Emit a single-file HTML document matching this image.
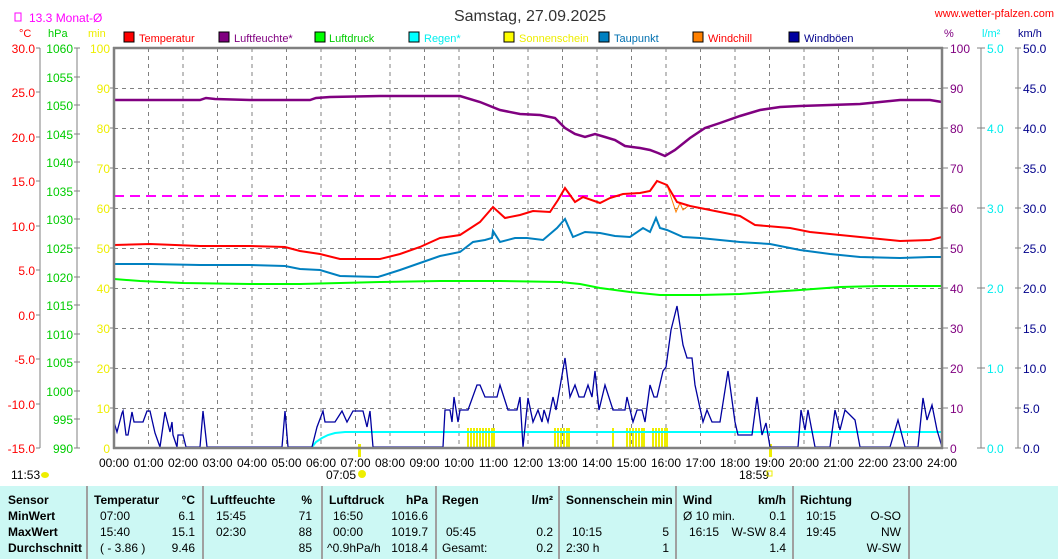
<!DOCTYPE html>
<html><head><meta charset="utf-8"><style>
html,body{margin:0;padding:0;background:#fff;}
svg{display:block;font-family:"Liberation Sans",sans-serif;}
</style></head><body>
<svg width="1058" height="559" viewBox="0 0 1058 559" xmlns="http://www.w3.org/2000/svg">
<rect width="1058" height="559" fill="#fff"/>
<text x="530" y="21" font-size="16" text-anchor="middle" fill="#333">Samstag, 27.09.2025</text>
<text x="1054" y="17" font-size="11" text-anchor="end" fill="#f00">www.wetter-pfalzen.com</text>
<rect x="15" y="13" width="6" height="8" fill="none" stroke="#f0f" stroke-width="1"/>
<text x="29" y="22" font-size="12" fill="#f0f">13.3 Monat-Ø</text>
<text x="19" y="37" font-size="11" fill="#f00">°C</text>
<text x="48" y="37" font-size="11" fill="#0c0">hPa</text>
<text x="88" y="37" font-size="11" fill="#ee0">min</text>
<text x="944" y="37" font-size="11" fill="#800080">%</text>
<text x="982" y="37" font-size="11" fill="#0ee">l/m²</text>
<text x="1018" y="37" font-size="11" fill="#00008b">km/h</text>
<g font-size="11">
<rect x="124" y="32" width="10" height="10" fill="#f00" stroke="#000"/><text x="139" y="42" fill="#f00">Temperatur</text>
<rect x="219" y="32" width="10" height="10" fill="#800080" stroke="#000"/><text x="234" y="42" fill="#800080">Luftfeuchte*</text>
<rect x="315" y="32" width="10" height="10" fill="#0f0" stroke="#000"/><text x="329" y="42" fill="#0c0">Luftdruck</text>
<rect x="409" y="32" width="10" height="10" fill="#0ff" stroke="#000"/><text x="424" y="42" fill="#0ee">Regen*</text>
<rect x="504" y="32" width="10" height="10" fill="#ff0" stroke="#000"/><text x="519" y="42" fill="#ee0">Sonnenschein</text>
<rect x="599" y="32" width="10" height="10" fill="#0080c0" stroke="#000"/><text x="614" y="42" fill="#0070b0">Taupunkt</text>
<rect x="693" y="32" width="10" height="10" fill="#ff8000" stroke="#000"/><text x="708" y="42" fill="#f00">Windchill</text>
<rect x="789" y="32" width="10" height="10" fill="#0000a0" stroke="#000"/><text x="804" y="42" fill="#00008b">Windböen</text>
</g>
<g stroke="#808080" stroke-dasharray="4,4" stroke-width="1">
<line x1="114" y1="88.5" x2="942" y2="88.5"/><line x1="114" y1="128.5" x2="942" y2="128.5"/><line x1="114" y1="168.5" x2="942" y2="168.5"/><line x1="114" y1="208.5" x2="942" y2="208.5"/><line x1="114" y1="248.5" x2="942" y2="248.5"/><line x1="114" y1="288.5" x2="942" y2="288.5"/><line x1="114" y1="328.5" x2="942" y2="328.5"/><line x1="114" y1="368.5" x2="942" y2="368.5"/><line x1="114" y1="408.5" x2="942" y2="408.5"/>
<line x1="148.5" y1="48" x2="148.5" y2="448"/><line x1="183" y1="48" x2="183" y2="448"/><line x1="217.5" y1="48" x2="217.5" y2="448"/><line x1="252" y1="48" x2="252" y2="448"/><line x1="286.5" y1="48" x2="286.5" y2="448"/><line x1="321" y1="48" x2="321" y2="448"/><line x1="355.5" y1="48" x2="355.5" y2="448"/><line x1="390" y1="48" x2="390" y2="448"/><line x1="424.5" y1="48" x2="424.5" y2="448"/><line x1="459" y1="48" x2="459" y2="448"/><line x1="493.5" y1="48" x2="493.5" y2="448"/><line x1="528" y1="48" x2="528" y2="448"/><line x1="562.5" y1="48" x2="562.5" y2="448"/><line x1="597" y1="48" x2="597" y2="448"/><line x1="631.5" y1="48" x2="631.5" y2="448"/><line x1="666" y1="48" x2="666" y2="448"/><line x1="700.5" y1="48" x2="700.5" y2="448"/><line x1="735" y1="48" x2="735" y2="448"/><line x1="769.5" y1="48" x2="769.5" y2="448"/><line x1="804" y1="48" x2="804" y2="448"/><line x1="838.5" y1="48" x2="838.5" y2="448"/><line x1="873" y1="48" x2="873" y2="448"/><line x1="907.5" y1="48" x2="907.5" y2="448"/>
</g>
<g fill="#ee0">
<rect x="467" y="428" width="2" height="20"/><rect x="470" y="428" width="2" height="20"/><rect x="473" y="428" width="2" height="20"/><rect x="476" y="428" width="2" height="20"/><rect x="479" y="428" width="2" height="20"/><rect x="482" y="428" width="2" height="20"/><rect x="485" y="428" width="2" height="20"/><rect x="488" y="428" width="2" height="20"/><rect x="491" y="428" width="2" height="20"/><rect x="493" y="428" width="2" height="20"/>
<rect x="554" y="428" width="2" height="20"/><rect x="557" y="428" width="2" height="20"/><rect x="560" y="428" width="2" height="20"/><rect x="563" y="428" width="2" height="20"/><rect x="566" y="428" width="2" height="20"/><rect x="568" y="428" width="2" height="20"/>
<rect x="612" y="428" width="2" height="20"/>
<rect x="626" y="428" width="2" height="20"/><rect x="629" y="428" width="2" height="20"/><rect x="632" y="428" width="2" height="20"/><rect x="635" y="428" width="2" height="20"/><rect x="638" y="428" width="2" height="20"/><rect x="641" y="428" width="2" height="20"/><rect x="643" y="428" width="2" height="20"/>
<rect x="652" y="428" width="2" height="20"/><rect x="655" y="428" width="2" height="20"/><rect x="658" y="428" width="2" height="20"/><rect x="661" y="428" width="2" height="20"/><rect x="664" y="428" width="2" height="20"/><rect x="666" y="428" width="2" height="20"/>
<rect x="358" y="444" width="3" height="13"/><rect x="769" y="444" width="3" height="13"/>
</g>
<line x1="114" y1="196" x2="942" y2="196" stroke="#f0f" stroke-width="2" stroke-dasharray="10,6"/>
<polyline fill="none" stroke="#0f0" stroke-width="2" points="114,279 140,281 183,283 250,284 300,284 340,283 380,282 440,281 500,281 560,282 580,284 600,288 630,292 660,295 700,295 740,294 770,292 800,290 840,287 880,286 942,286"/>
<polyline fill="none" stroke="#0080c0" stroke-width="2" points="114,264 150,264 200,265 250,265 285,266 300,269 320,270 340,276 378,277 400,270 420,263 440,256 460,252 473,242 485,240 492,238 493,231 500,242 515,238 527,238 543,240 557,228 565,219 573,237 585,232 600,233 615,236 630,237 643,228 650,232 656,218 660,228 667,230 683,237 700,238 720,240 740,242 770,244 800,250 830,254 860,257 900,258 930,257 942,257"/>
<polyline fill="none" stroke="#ff8000" stroke-width="1" points="667,185 672,200 676,212 680,203 683,210 688,206"/>
<polyline fill="none" stroke="#f00" stroke-width="2" points="114,245 150,244 200,246 250,246 285,247 300,251 320,254 340,259 380,259 400,254 420,247 440,238 460,235 480,222 493,207 505,218 520,215 533,211 550,212 558,200 565,188 575,202 583,197 600,203 610,198 623,194 640,193 650,191 657,181 667,185 677,202 690,206 700,208 720,212 740,216 755,225 790,228 810,232 840,235 870,238 900,241 930,240 942,237"/>
<polyline fill="none" stroke="#800080" stroke-width="2.5" points="114,100 200,100 206,98 215,99 250,100 310,100 316,98 330,97 380,96 460,96 480,102 500,110 520,114 540,115 555,118 565,128 575,134 585,137 595,134 605,137 615,140 625,146 640,148 650,150 658,153 665,156 675,150 690,138 705,128 720,123 740,116 760,110 780,107 800,106 830,105 860,104 880,102 900,100 930,100 942,102"/>
<polyline fill="none" stroke="#0ff" stroke-width="2" points="312,447 316,442 322,438 328,435 335,433 345,432 942,432"/>
<polyline fill="none" stroke="#0000a0" stroke-width="1.3" points="114,422 117,432 122,413 123,411 126,435 128,435 132,412 134,422 143,422 147,411 150,411 155,433 160,447 165,412 170,432 172,422 173,435 177,447 178,435 183,435 186,447 200,447 203,411 207,447 282,447 285,411 288,447 312,447 317,427 323,411 325,422 335,422 342,411 347,422 353,411 363,411 367,427 370,411 373,447 443,447 445,410 450,410 452,422 454,397 458,422 460,410 468,410 477,385 480,385 485,397 497,397 500,385 508,410 517,410 520,397 523,447 528,398 533,422 538,410 542,422 544,410 548,422 553,397 556,410 565,358 570,397 575,385 579,397 584,397 588,385 592,397 595,371 599,410 605,385 613,410 625,410 627,397 633,422 637,410 642,410 645,422 650,385 654,397 657,397 663,371 666,367 671,330 677,306 683,345 687,358 692,358 695,385 703,422 707,410 712,422 720,422 728,371 735,422 738,435 752,435 757,397 762,435 766,423 770,447 798,447 801,410 805,430 808,410 815,447 830,447 835,410 840,430 845,410 855,420 860,447 890,447 898,420 905,447 918,447 923,398 927,420 932,405 937,430 942,447"/>
<g stroke="#808080" stroke-width="2.5" fill="none">
<line x1="114" y1="47" x2="114" y2="449"/><line x1="942" y1="47" x2="942" y2="449"/>
<line x1="113" y1="48" x2="943" y2="48"/><line x1="113" y1="448" x2="943" y2="448"/>
</g>
<g stroke="#808080" stroke-width="1">
<line x1="40" y1="48" x2="40" y2="448"/><line x1="77" y1="48" x2="77" y2="448"/>
<line x1="981" y1="48" x2="981" y2="448"/><line x1="1018" y1="48" x2="1018" y2="448"/>
</g>
<g font-size="12" fill="#f00" text-anchor="end">
<text x="35" y="53">30.0</text><text x="35" y="97">25.0</text><text x="35" y="142">20.0</text><text x="35" y="186">15.0</text><text x="35" y="231">10.0</text><text x="35" y="275">5.0</text><text x="35" y="320">0.0</text><text x="35" y="364">-5.0</text><text x="35" y="409">-10.0</text><text x="35" y="453">-15.0</text>
</g>
<g stroke="#808080"><line x1="36" y1="48" x2="40" y2="48"/><line x1="36" y1="92" x2="40" y2="92"/><line x1="36" y1="137" x2="40" y2="137"/><line x1="36" y1="181" x2="40" y2="181"/><line x1="36" y1="226" x2="40" y2="226"/><line x1="36" y1="270" x2="40" y2="270"/><line x1="36" y1="315" x2="40" y2="315"/><line x1="36" y1="359" x2="40" y2="359"/><line x1="36" y1="404" x2="40" y2="404"/><line x1="36" y1="448" x2="40" y2="448"/>
<line x1="74" y1="48" x2="80" y2="48"/><line x1="74" y1="77" x2="80" y2="77"/><line x1="74" y1="105" x2="80" y2="105"/><line x1="74" y1="134" x2="80" y2="134"/><line x1="74" y1="162" x2="80" y2="162"/><line x1="74" y1="191" x2="80" y2="191"/><line x1="74" y1="219" x2="80" y2="219"/><line x1="74" y1="248" x2="80" y2="248"/><line x1="74" y1="277" x2="80" y2="277"/><line x1="74" y1="305" x2="80" y2="305"/><line x1="74" y1="334" x2="80" y2="334"/><line x1="74" y1="362" x2="80" y2="362"/><line x1="74" y1="391" x2="80" y2="391"/><line x1="74" y1="419" x2="80" y2="419"/><line x1="74" y1="448" x2="80" y2="448"/>
<line x1="110" y1="88" x2="114" y2="88"/><line x1="110" y1="128" x2="114" y2="128"/><line x1="110" y1="168" x2="114" y2="168"/><line x1="110" y1="208" x2="114" y2="208"/><line x1="110" y1="248" x2="114" y2="248"/><line x1="110" y1="288" x2="114" y2="288"/><line x1="110" y1="328" x2="114" y2="328"/><line x1="110" y1="368" x2="114" y2="368"/><line x1="110" y1="408" x2="114" y2="408"/>
<line x1="942" y1="48" x2="948" y2="48"/><line x1="942" y1="88" x2="948" y2="88"/><line x1="942" y1="128" x2="948" y2="128"/><line x1="942" y1="168" x2="948" y2="168"/><line x1="942" y1="208" x2="948" y2="208"/><line x1="942" y1="248" x2="948" y2="248"/><line x1="942" y1="288" x2="948" y2="288"/><line x1="942" y1="328" x2="948" y2="328"/><line x1="942" y1="368" x2="948" y2="368"/><line x1="942" y1="408" x2="948" y2="408"/><line x1="942" y1="448" x2="948" y2="448"/>
<line x1="977" y1="48" x2="985" y2="48"/><line x1="977" y1="128" x2="985" y2="128"/><line x1="977" y1="208" x2="985" y2="208"/><line x1="977" y1="288" x2="985" y2="288"/><line x1="977" y1="368" x2="985" y2="368"/><line x1="977" y1="448" x2="985" y2="448"/>
<line x1="1015" y1="48" x2="1021" y2="48"/><line x1="1015" y1="88" x2="1021" y2="88"/><line x1="1015" y1="128" x2="1021" y2="128"/><line x1="1015" y1="168" x2="1021" y2="168"/><line x1="1015" y1="208" x2="1021" y2="208"/><line x1="1015" y1="248" x2="1021" y2="248"/><line x1="1015" y1="288" x2="1021" y2="288"/><line x1="1015" y1="328" x2="1021" y2="328"/><line x1="1015" y1="368" x2="1021" y2="368"/><line x1="1015" y1="408" x2="1021" y2="408"/><line x1="1015" y1="448" x2="1021" y2="448"/>
</g>
<g font-size="12" fill="#0c0" text-anchor="end">
<text x="73" y="53">1060</text><text x="73" y="82">1055</text><text x="73" y="110">1050</text><text x="73" y="139">1045</text><text x="73" y="167">1040</text><text x="73" y="196">1035</text><text x="73" y="224">1030</text><text x="73" y="253">1025</text><text x="73" y="282">1020</text><text x="73" y="310">1015</text><text x="73" y="339">1010</text><text x="73" y="367">1005</text><text x="73" y="396">1000</text><text x="73" y="424">995</text><text x="73" y="453">990</text>
</g>
<g font-size="12" fill="#ee0" text-anchor="end">
<text x="110" y="53">100</text><text x="110" y="93">90</text><text x="110" y="133">80</text><text x="110" y="173">70</text><text x="110" y="213">60</text><text x="110" y="253">50</text><text x="110" y="293">40</text><text x="110" y="333">30</text><text x="110" y="373">20</text><text x="110" y="413">10</text><text x="110" y="453">0</text>
</g>
<g font-size="12" fill="#800080">
<text x="950" y="53">100</text><text x="950" y="93">90</text><text x="950" y="133">80</text><text x="950" y="173">70</text><text x="950" y="213">60</text><text x="950" y="253">50</text><text x="950" y="293">40</text><text x="950" y="333">30</text><text x="950" y="373">20</text><text x="950" y="413">10</text><text x="950" y="453">0</text>
</g>
<g font-size="12" fill="#0ee">
<text x="987" y="53">5.0</text><text x="987" y="133">4.0</text><text x="987" y="213">3.0</text><text x="987" y="293">2.0</text><text x="987" y="373">1.0</text><text x="987" y="453">0.0</text>
</g>
<g font-size="12" fill="#00008b">
<text x="1023" y="53">50.0</text><text x="1023" y="93">45.0</text><text x="1023" y="133">40.0</text><text x="1023" y="173">35.0</text><text x="1023" y="213">30.0</text><text x="1023" y="253">25.0</text><text x="1023" y="293">20.0</text><text x="1023" y="333">15.0</text><text x="1023" y="373">10.0</text><text x="1023" y="413">5.0</text><text x="1023" y="453">0.0</text>
</g>
<g font-size="12" fill="#000" text-anchor="middle">
<text x="114" y="467">00:00</text><text x="148.5" y="467">01:00</text><text x="183" y="467">02:00</text><text x="217.5" y="467">03:00</text><text x="252" y="467">04:00</text><text x="286.5" y="467">05:00</text><text x="321" y="467">06:00</text><text x="355.5" y="467">07:00</text><text x="390" y="467">08:00</text><text x="424.5" y="467">09:00</text><text x="459" y="467">10:00</text><text x="493.5" y="467">11:00</text><text x="528" y="467">12:00</text><text x="562.5" y="467">13:00</text><text x="597" y="467">14:00</text><text x="631.5" y="467">15:00</text><text x="666" y="467">16:00</text><text x="700.5" y="467">17:00</text><text x="735" y="467">18:00</text><text x="769.5" y="467">19:00</text><text x="804" y="467">20:00</text><text x="838.5" y="467">21:00</text><text x="873" y="467">22:00</text><text x="907.5" y="467">23:00</text><text x="942" y="467">24:00</text>
<text x="341" y="479">07:05</text><text x="754" y="479">18:59</text>
</g>
<text x="11" y="479" font-size="12" fill="#000">11:53</text>
<ellipse cx="45" cy="475" rx="4" ry="3" fill="#ee0"/>
<circle cx="362" cy="474" r="4" fill="#ee0"/>
<rect x="767" y="471" width="5" height="5" fill="none" stroke="#ee0"/>
<rect x="0" y="486" width="1058" height="73" fill="#ccf8f4"/>
<g stroke="#a0a0a0" stroke-width="2">
<line x1="87" y1="486" x2="87" y2="559"/><line x1="203" y1="486" x2="203" y2="559"/><line x1="322" y1="486" x2="322" y2="559"/><line x1="436" y1="486" x2="436" y2="559"/><line x1="559" y1="486" x2="559" y2="559"/><line x1="676" y1="486" x2="676" y2="559"/><line x1="793" y1="486" x2="793" y2="559"/><line x1="909" y1="486" x2="909" y2="559"/>
</g>
<g font-size="12" fill="#000">
<g font-weight="bold">
<text x="8" y="504">Sensor</text><text x="8" y="520">MinWert</text><text x="8" y="536">MaxWert</text><text x="8" y="552">Durchschnitt</text>
<text x="94" y="504">Temperatur</text><text x="195" y="504" text-anchor="end">°C</text>
<text x="210" y="504">Luftfeuchte</text><text x="312" y="504" text-anchor="end">%</text>
<text x="329" y="504">Luftdruck</text><text x="428" y="504" text-anchor="end">hPa</text>
<text x="442" y="504">Regen</text><text x="553" y="504" text-anchor="end">l/m²</text>
<text x="566" y="504">Sonnenschein min</text>
<text x="683" y="504">Wind</text><text x="786" y="504" text-anchor="end">km/h</text>
<text x="800" y="504">Richtung</text>
</g>
<text x="100" y="520">07:00</text><text x="195" y="520" text-anchor="end">6.1</text>
<text x="100" y="536">15:40</text><text x="195" y="536" text-anchor="end">15.1</text>
<text x="100" y="552">( - 3.86 )</text><text x="195" y="552" text-anchor="end">9.46</text>
<text x="216" y="520">15:45</text><text x="312" y="520" text-anchor="end">71</text>
<text x="216" y="536">02:30</text><text x="312" y="536" text-anchor="end">88</text>
<text x="312" y="552" text-anchor="end">85</text>
<text x="333" y="520">16:50</text><text x="428" y="520" text-anchor="end">1016.6</text>
<text x="333" y="536">00:00</text><text x="428" y="536" text-anchor="end">1019.7</text>
<text x="327" y="552">^0.9hPa/h</text><text x="428" y="552" text-anchor="end">1018.4</text>
<text x="446" y="536">05:45</text><text x="553" y="536" text-anchor="end">0.2</text>
<text x="442" y="552">Gesamt:</text><text x="553" y="552" text-anchor="end">0.2</text>
<text x="572" y="536">10:15</text><text x="669" y="536" text-anchor="end">5</text>
<text x="566" y="552">2:30 h</text><text x="669" y="552" text-anchor="end">1</text>
<text x="683" y="520">Ø 10 min.</text><text x="786" y="520" text-anchor="end">0.1</text>
<text x="689" y="536">16:15</text><text x="786" y="536" text-anchor="end">W-SW 8.4</text>
<text x="786" y="552" text-anchor="end">1.4</text>
<text x="806" y="520">10:15</text><text x="901" y="520" text-anchor="end">O-SO</text>
<text x="806" y="536">19:45</text><text x="901" y="536" text-anchor="end">NW</text>
<text x="901" y="552" text-anchor="end">W-SW</text>
</g>
</svg>
</body></html>
